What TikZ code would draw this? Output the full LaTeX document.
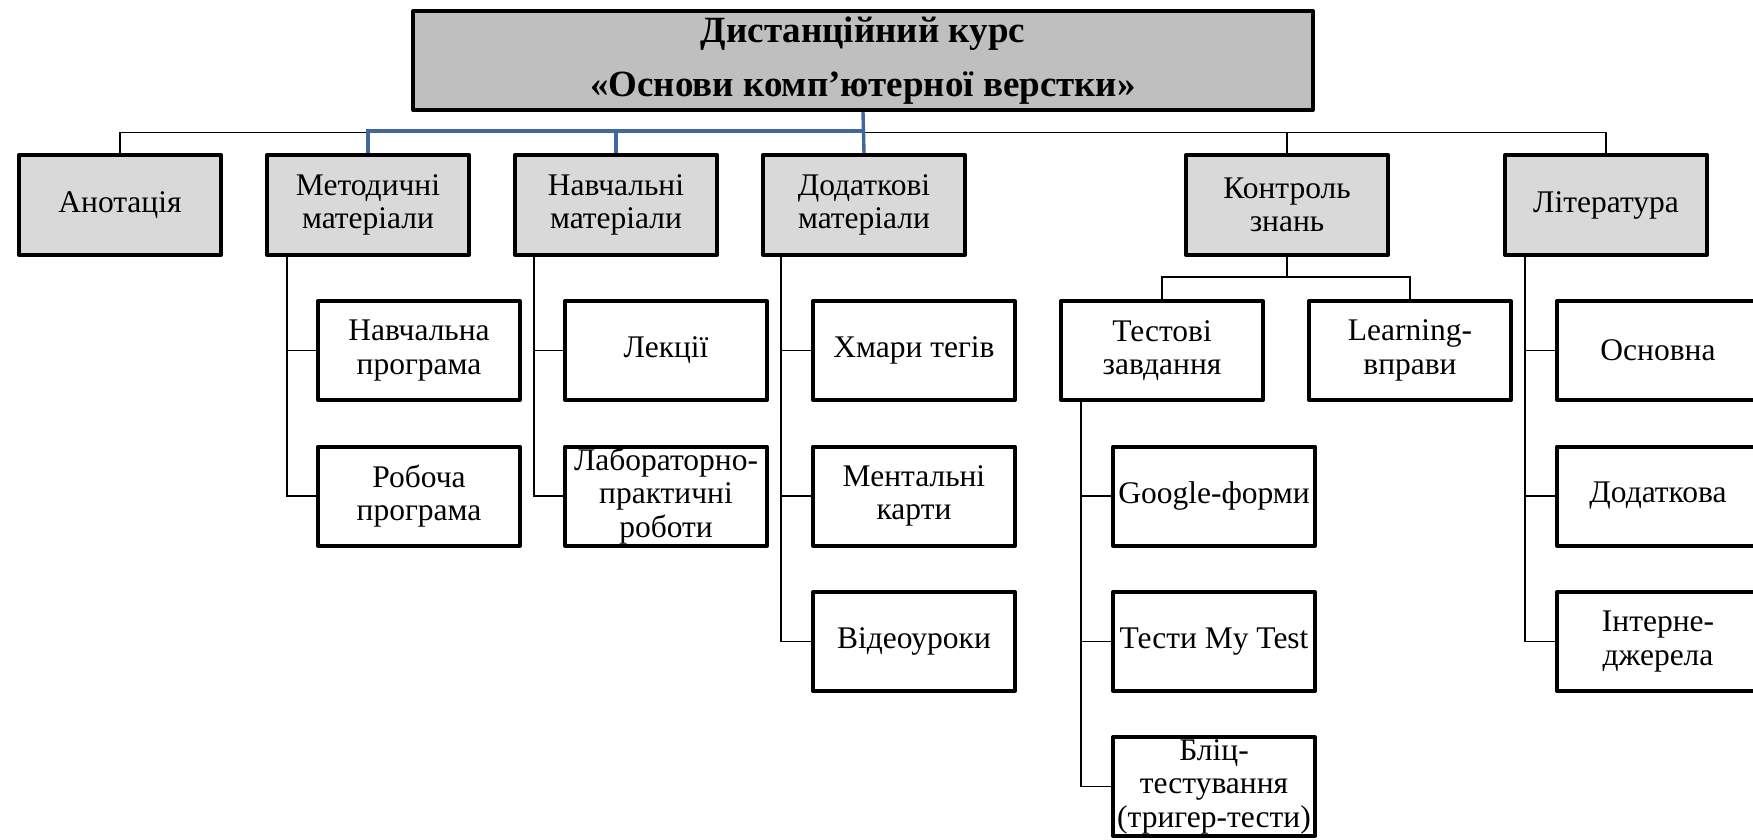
\documentclass[tikz,border=0pt]{standalone}
\usepackage{fontspec}
\setmainfont{Liberation Serif}
\usetikzlibrary{calc}
\definecolor{titlefill}{RGB}{191,191,191}
\definecolor{topfill}{RGB}{217,217,217}
\definecolor{linkblue}{RGB}{64,104,158}
\tikzset{
  box/.style={draw=black, line width=4pt, line join=round, inner sep=0pt,
    minimum width=202pt, minimum height=99pt, align=center,
    font=\fontsize{31.5}{33.5}\selectfont},
  topbox/.style={box, fill=topfill, minimum height=100pt},
  titlebox/.style={draw=black, line width=4pt, line join=round, fill=titlefill,
    inner sep=0pt, minimum width=900pt, minimum height=99pt, align=center,
    font=\fontsize{37}{54}\selectfont\bfseries},
  conn/.style={draw=black, line width=1.4pt},
  blueconn/.style={draw=linkblue, line width=3.4pt},
}
\begin{document}
\begin{tikzpicture}[x=1pt, y=-1pt]
\useasboundingbox (0,0) rectangle (1753,839);
\clip (0,0) rectangle (1753,839);
\fill[white] (0,0) rectangle (1753,839);

% course title
\node[titlebox] (title) at (863,60.5) {Дистанційний курс\\«Основи комп’ютерної верстки»};

% main sections
\node[topbox] (ann) at (120,205) {Анотація};
\node[topbox] (met) at (368,205) {Методичні\\матеріали};
\node[topbox] (nav) at (616,205) {Навчальні\\матеріали};
\node[topbox] (dod) at (864,205) {Додаткові\\матеріали};
\node[topbox] (kon) at (1287,205) {Контроль\\знань};
\node[topbox] (lit) at (1606,205) {Література};

% methodical materials
\node[box] (np) at (419,350.5) {Навчальна\\програма};
\node[box] (rp) at (419,496) {Робоча\\програма};

% learning materials
\node[box] (lek) at (666,350.5) {Лекції};
\node[box] (lab) at (666,496) {Лабораторно-\\практичні\\роботи};

% additional materials
\node[box] (hm) at (914,350.5) {Хмари тегів};
\node[box] (mk) at (914,496) {Ментальні\\карти};
\node[box] (vu) at (914,641.5) {Відеоуроки};

% knowledge control
\node[box] (tz) at (1162,350.5) {Тестові\\завдання};
\node[box] (lv) at (1410,350.5) {Learning-\\вправи};
\node[box] (gf) at (1214,496) {Google-форми};
\node[box] (mt) at (1214,641.5) {Тести My Test};
\node[box] (bt) at (1214,786.5) {Бліц-\\тестування\\(тригер-тести)};

% literature
\node[box] (osn) at (1658,350.5) {Основна};
\node[box] (dd) at (1658,496) {Додаткова};
\node[box] (ie) at (1658,641.5) {Інтерне-\\джерела};

% top-level bus
\coordinate (bus) at (0,132.5);
\coordinate (bbus) at (0,131);
\draw[conn] (ann.north) -- (ann.north |- bus) -- (lit.north |- bus) -- (lit.north);
\draw[conn] (kon.north) -- (kon.north |- bus);
\draw[blueconn] (title.south) -- (dod.north);
\draw[blueconn] (met.north) -- (met.north |- bbus) -- (dod.north |- bbus);
\draw[blueconn] (nav.north) -- (nav.north |- bbus);

% sub-trees
\coordinate (mt0) at ([xshift=22pt]met.south west);
\draw[conn] (mt0) |- (np.west);
\draw[conn] (mt0) |- (rp.west);
\coordinate (nt0) at ([xshift=21pt]nav.south west);
\draw[conn] (nt0) |- (lek.west);
\draw[conn] (nt0) |- (lab.west);
\coordinate (dt0) at ([xshift=20pt]dod.south west);
\draw[conn] (dt0) |- (hm.west);
\draw[conn] (dt0) |- (mk.west);
\draw[conn] (dt0) |- (vu.west);
\coordinate (ks) at ([yshift=-20pt]kon.south);
\draw[conn] (kon.south) -- (ks);
\draw[conn] (tz.north) |- (ks) -| (lv.north);
\coordinate (tt0) at ([xshift=22pt]tz.south west);
\draw[conn] (tt0) |- (gf.west);
\draw[conn] (tt0) |- (mt.west);
\draw[conn] (tt0) |- (bt.west);
\coordinate (lt0) at ([xshift=22pt]lit.south west);
\draw[conn] (lt0) |- (osn.west);
\draw[conn] (lt0) |- (dd.west);
\draw[conn] (lt0) |- (ie.west);
\end{tikzpicture}
\end{document}
